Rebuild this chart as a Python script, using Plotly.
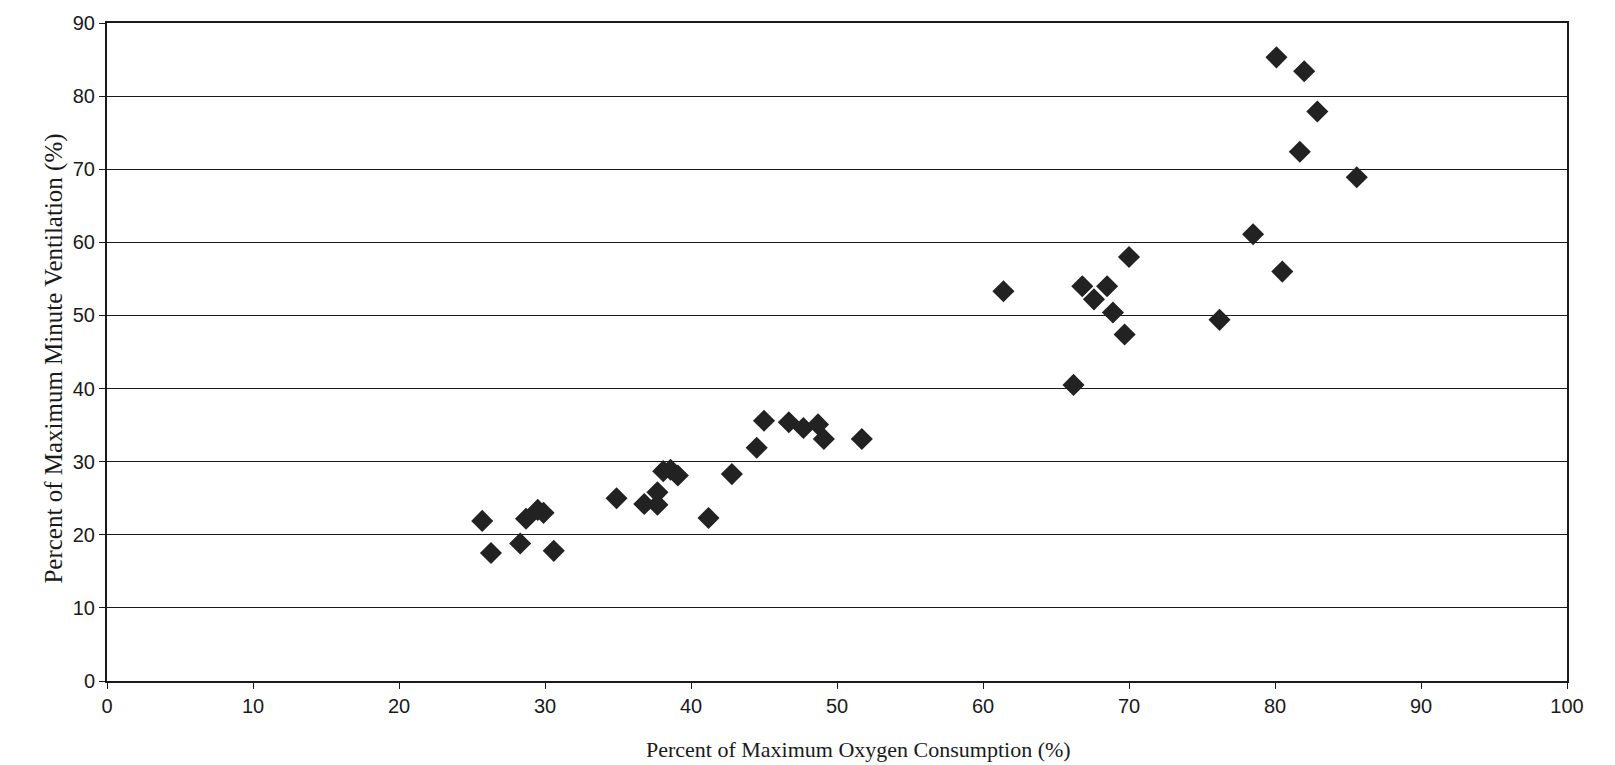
import plotly.graph_objects as go

# Percent of maximum oxygen consumption (x) vs percent of maximum minute ventilation (y)
vo2_pct = [
    25.7, 26.3, 28.7, 28.3, 29.5, 29.9, 30.6, 34.9, 36.8, 37.7, 37.7, 41.2,
    45.0, 46.7, 47.7, 48.7, 49.1, 51.7, 44.5, 38.1, 38.6, 39.1, 42.8,
    61.4, 66.8, 67.6, 68.5, 68.9, 70.0, 69.7, 66.2,
    80.1, 82.0, 82.9, 81.7, 85.6, 78.5, 80.5, 76.2,
]
ve_pct = [
    21.9, 17.5, 22.2, 18.8, 23.4, 23.0, 17.8, 25.0, 24.2, 24.1, 25.8, 22.3,
    35.6, 35.4, 34.6, 35.1, 33.1, 33.1, 31.9, 28.7, 28.9, 28.1, 28.3,
    53.3, 54.0, 52.2, 54.0, 50.4, 58.0, 47.4, 40.5,
    85.3, 83.4, 77.9, 72.4, 68.9, 61.1, 56.0, 49.4,
]

x_ticks = list(range(0, 101, 10))
y_ticks = list(range(0, 91, 10))

x_title = "Percent of Maximum Oxygen Consumption (%)"
y_title = "Percent of Maximum Minute Ventilation (%)"

fig = go.Figure(
    go.Scatter(
        x=vo2_pct,
        y=ve_pct,
        mode="markers",
        marker=dict(symbol="diamond", size=17, color="#222222", line=dict(width=0)),
        showlegend=False,
    )
)

axis_common = dict(
    showline=True,
    linecolor="#1a1a1a",
    linewidth=2,
    mirror=True,
    ticks="outside",
    ticklen=6,
    tickwidth=1,
    tickcolor="#1a1a1a",
    zeroline=False,
    tickfont=dict(family="Liberation Sans, Arial, sans-serif", size=20, color="#1a1a1a"),
)

fig.update_xaxes(range=[0, 100], tickvals=x_ticks, showgrid=False, **axis_common)
fig.update_yaxes(
    range=[0, 90],
    tickvals=y_ticks,
    showgrid=True,
    gridcolor="#1a1a1a",
    gridwidth=1,
    **axis_common,
)

serif = "Liberation Serif, Times New Roman, serif"
fig.add_annotation(
    text=x_title, xref="paper", yref="paper", x=0.515, y=0,
    yshift=-68, yanchor="middle", xanchor="center", showarrow=False,
    font=dict(family=serif, size=22, color="#1a1a1a"),
)
fig.add_annotation(
    text=y_title, xref="paper", yref="paper", x=0, y=0.49,
    xshift=-53, xanchor="center", yanchor="middle", textangle=-90, showarrow=False,
    font=dict(family=serif, size=25, color="#1a1a1a"),
)

fig.update_layout(
    width=1615,
    height=765,
    margin=dict(l=107, r=48, t=16, b=84),
    paper_bgcolor="white",
    plot_bgcolor="white",
)

fig.write_html("out.html")
